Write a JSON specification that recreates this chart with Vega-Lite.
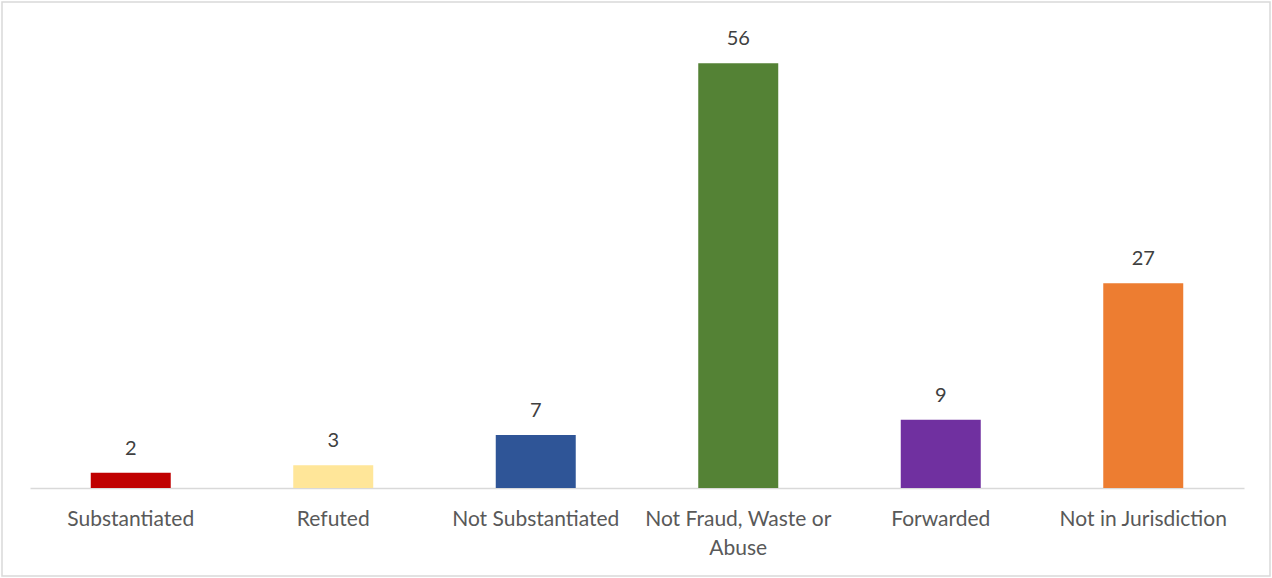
{
  "$schema": "https://vega.github.io/schema/vega-lite/v6.json",
  "width": 1268,
  "height": 574,
  "padding": {"left": 2, "top": 2, "right": 2, "bottom": 2},
  "autosize": {"type": "none"},
  "background": "white",
  "config": {
    "view": {"stroke": "#d9d9d9", "strokeWidth": 1.5},
    "font": "Lato"
  },
  "data": {
    "values": [
      {"category": "Substantiated", "count": 2, "color": "#C00000"},
      {"category": "Refuted", "count": 3, "color": "#FFE699"},
      {"category": "Not Substantiated", "count": 7, "color": "#2F5597"},
      {"category": "Not Fraud, Waste or Abuse", "count": 56, "color": "#548235"},
      {"category": "Forwarded", "count": 9, "color": "#7030A0"},
      {"category": "Not in Jurisdiction", "count": 27, "color": "#ED7D31"}
    ]
  },
  "encoding": {
    "x": {
      "field": "category",
      "type": "nominal",
      "sort": null,
      "scale": {"range": [28, 1242], "paddingInner": 0.605, "paddingOuter": 0.3},
      "axis": {
        "title": null,
        "orient": "bottom",
        "offset": -88,
        "labelAngle": 0,
        "ticks": false,
        "domainColor": "#d9d9d9",
        "domainWidth": 1.5,
        "labelColor": "#595959",
        "labelFont": "Lato",
        "labelFontSize": 21,
        "labelPadding": 20,
        "labelLineHeight": 29,
        "labelLimit": 400,
        "labelExpr": "datum.label == 'Not Fraud, Waste or Abuse' ? ['Not Fraud, Waste or', 'Abuse'] : datum.label"
      }
    },
    "y": {
      "field": "count",
      "type": "quantitative",
      "scale": {"domain": [0, 60], "range": [486, 31], "nice": false},
      "axis": null
    }
  },
  "layer": [
    {
      "mark": {"type": "bar"},
      "encoding": {
        "color": {"field": "color", "type": "nominal", "scale": null, "legend": null}
      }
    },
    {
      "mark": {"type": "text", "baseline": "bottom", "dy": -14, "fontSize": 20, "color": "#404040", "font": "Lato"},
      "encoding": {"text": {"field": "count", "type": "quantitative"}}
    }
  ]
}
